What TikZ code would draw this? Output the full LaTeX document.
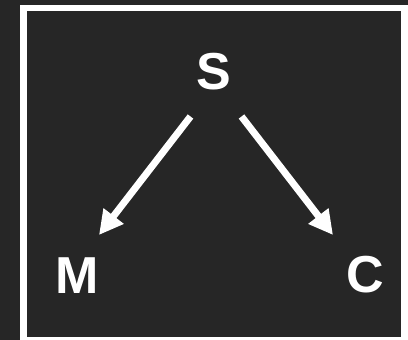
\documentclass[tikz,border=0pt]{standalone}
\usepackage{fontspec}
\setmainfont{Liberation Sans}
\usetikzlibrary{arrows.meta,calc}
\definecolor{bgdark}{RGB}{38,38,38}
\tikzset{
  lbl/.style={text=white, font=\fontsize{52}{52}\selectfont\bfseries, inner sep=0pt, anchor=center},
  arr/.style={draw=white, line width=7pt, -{Triangle[length=24pt,width=24pt]}}
}
\begin{document}
\begin{tikzpicture}[x=1pt,y=1pt]
\useasboundingbox (0,0) rectangle (408,-340);
\fill[bgdark] (0,0) rectangle (408,-340);
\fill[white] (20,-5) rectangle (412,-344);
\fill[bgdark] (27,-11) rectangle (400.5,-337);
\node[lbl] (S) at (214,-72) {S};
\node[lbl] (M) at (77.5,-276) {M};
\node[lbl] (C) at (365.5,-275) {C};
\draw[arr] ($(S.center)+(-23.5,-44.5)$) -- ($(M.center)+(21.5,41)$);
\draw[arr] ($(S.center)+(27.5,-44.5)$) -- ($(C.center)+(-32.5,40)$);
\end{tikzpicture}
\end{document}
